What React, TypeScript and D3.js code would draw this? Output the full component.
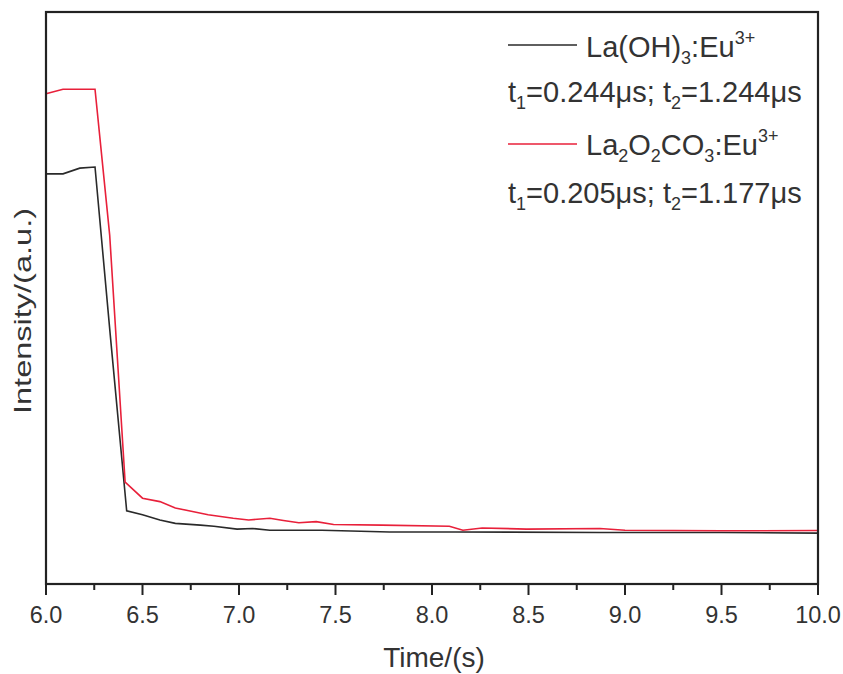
import React from "react";
import * as d3 from "d3";

const blackTime = [6.0, 6.088, 6.175, 6.254, 6.333, 6.418, 6.5, 6.59, 6.67, 6.8, 6.87, 6.99, 7.07, 7.16, 7.43, 7.78, 8.12, 8.87, 9.5, 10.0];
const blackValues = [71.7, 71.7, 72.7, 72.9, 43.5, 12.8, 12.1, 11.2, 10.6, 10.3, 10.1, 9.6, 9.7, 9.4, 9.4, 9.1, 9.1, 9.0, 9.0, 8.9];

const redTime = [6.0, 6.088, 6.254, 6.33, 6.41, 6.5, 6.59, 6.67, 6.74, 6.84, 6.97, 7.05, 7.16, 7.23, 7.31, 7.4, 7.49, 7.74, 8.09, 8.16, 8.26, 8.49, 8.87, 9.0, 9.5, 10.0];
const redValues = [85.7, 86.5, 86.5, 61.0, 17.8, 15.0, 14.4, 13.3, 12.8, 12.1, 11.5, 11.2, 11.5, 11.1, 10.7, 10.9, 10.4, 10.3, 10.1, 9.4, 9.8, 9.6, 9.7, 9.4, 9.3, 9.35];

const xMajorTicks = [6.0, 6.5, 7.0, 7.5, 8.0, 8.5, 9.0, 9.5, 10.0];
const xMinorTicks = [6.25, 6.75, 7.25, 7.75, 8.25, 8.75, 9.25, 9.75];

const FONT = "Arial, 'Liberation Sans', Helvetica, sans-serif";

export default function App() {
  const W = 843, H = 674;
  const left = 46, right = 818, top = 12, bottom = 584;
  const x = d3.scaleLinear().domain([6, 10]).range([left, right]);
  const y = d3.scaleLinear().domain([0, 100]).range([bottom, top]);
  const line = d3.line<[number, number]>().x(d => x(d[0])).y(d => y(d[1]));
  const blackPts = blackTime.map((t, i) => [t, blackValues[i]] as [number, number]);
  const redPts = redTime.map((t, i) => [t, redValues[i]] as [number, number]);
  const red = "#e8203a";
  const dark = "#222";
  const lf = 29;
  const sub = 18;
  return (
    <svg width={W} height={H} style={{ position: "absolute", left: 0, top: 0, background: "#fff" }} fontFamily={FONT}>
      <rect x={0} y={0} width={W} height={H} fill="#fff" />
      <path d={line(blackPts) || ""} fill="none" stroke="#2a2a2a" strokeWidth={1.6} />
      <path d={line(redPts) || ""} fill="none" stroke={red} strokeWidth={1.6} />
      <rect x={left} y={top} width={right - left} height={bottom - top} fill="none" stroke={dark} strokeWidth={2.2} />
      {xMajorTicks.map(t => (
        <g key={"M" + t}>
          <line x1={x(t)} x2={x(t)} y1={bottom} y2={bottom + 11} stroke={dark} strokeWidth={2} />
          <text x={x(t)} y={623} textAnchor="middle" fontSize={23.5} fill="#333">{t.toFixed(1)}</text>
        </g>
      ))}
      {xMinorTicks.map(t => (
        <line key={"m" + t} x1={x(t)} x2={x(t)} y1={bottom} y2={bottom + 6} stroke={dark} strokeWidth={2} />
      ))}
      <text x={434} y={667} textAnchor="middle" fontSize={28} fill="#333">Time/(s)</text>
      <text transform="translate(31,311) rotate(-90)" textAnchor="middle" fontSize={24} fill="#333"
        textLength={206} lengthAdjust="spacingAndGlyphs">Intensity/(a.u.)</text>

      <line x1={508} x2={577} y1={45} y2={45} stroke="#2a2a2a" strokeWidth={1.6} />
      <text x={586} y={57} fontSize={lf} fill="#333">
        La(OH)<tspan fontSize={sub} dy={7}>3</tspan><tspan dy={-7}>:Eu</tspan><tspan fontSize={sub} dy={-13}>3+</tspan>
      </text>
      <text x={508} y={102} fontSize={lf} fill="#333">
        t<tspan fontSize={sub} dy={7}>1</tspan><tspan dy={-7}>=0.244μs; t</tspan><tspan fontSize={sub} dy={7}>2</tspan><tspan dy={-7}>=1.244μs</tspan>
      </text>
      <line x1={508} x2={577} y1={144} y2={144} stroke={red} strokeWidth={1.6} />
      <text x={586} y={155} fontSize={lf} fill="#333">
        La<tspan fontSize={sub} dy={7}>2</tspan><tspan dy={-7}>O</tspan><tspan fontSize={sub} dy={7}>2</tspan><tspan dy={-7}>CO</tspan><tspan fontSize={sub} dy={7}>3</tspan><tspan dy={-7}>:Eu</tspan><tspan fontSize={sub} dy={-13}>3+</tspan>
      </text>
      <text x={508} y={203} fontSize={lf} fill="#333">
        t<tspan fontSize={sub} dy={7}>1</tspan><tspan dy={-7}>=0.205μs; t</tspan><tspan fontSize={sub} dy={7}>2</tspan><tspan dy={-7}>=1.177μs</tspan>
      </text>
    </svg>
  );
}
